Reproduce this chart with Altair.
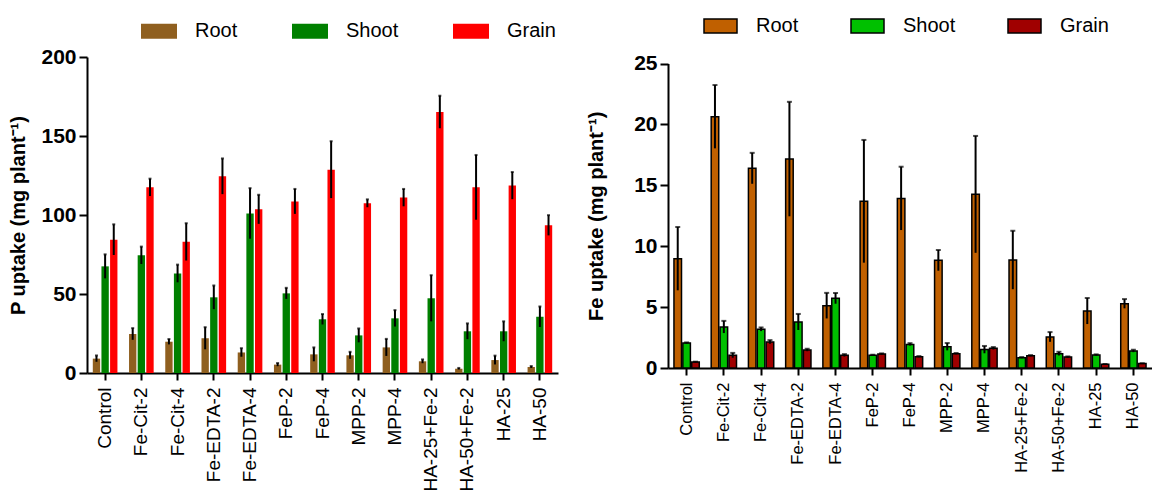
import altair as alt
import pandas as pd

treatments = ["Control", "Fe-Cit-2", "Fe-Cit-4", "Fe-EDTA-2", "Fe-EDTA-4", "FeP-2", "FeP-4",
              "MPP-2", "MPP-4", "HA-25+Fe-2", "HA-50+Fe-2", "HA-25", "HA-50"]
parts = ["Root", "Shoot", "Grain"]

# P uptake (mg plant-1): means and error half-widths
p_root = [9.1, 24.7, 19.8, 22.0, 13.0, 5.3, 11.8, 11.2, 16.2, 7.4, 2.7, 8.2, 3.8]
p_root_err = [2.0, 3.7, 1.7, 7.0, 2.7, 1.0, 4.4, 2.2, 5.4, 1.2, 0.5, 2.8, 0.6]
p_shoot = [67.5, 74.5, 63.0, 47.9, 101.0, 50.4, 34.0, 23.8, 34.6, 47.3, 26.4, 26.4, 35.6]
p_shoot_err = [7.6, 5.5, 5.6, 7.5, 16.0, 3.5, 3.3, 4.4, 5.2, 14.6, 5.0, 6.3, 6.5]
p_grain = [84.4, 117.5, 83.0, 124.5, 103.6, 108.6, 128.7, 107.4, 111.0, 165.2, 117.5, 118.6, 93.5]
p_grain_err = [9.7, 5.5, 11.8, 11.3, 9.2, 7.9, 18.0, 2.5, 5.5, 10.3, 20.5, 8.6, 6.4]

# Fe uptake (mg plant-1): means and error half-widths
fe_root = [8.98, 20.64, 16.4, 17.16, 5.12, 13.69, 13.93, 8.84, 14.26, 8.87, 2.55, 4.68, 5.28]
fe_root_err = [2.6, 2.6, 1.27, 4.7, 1.05, 5.04, 2.6, 0.85, 4.8, 2.4, 0.4, 1.07, 0.38]
fe_shoot = [2.05, 3.37, 3.18, 3.78, 5.72, 1.04, 1.94, 1.75, 1.51, 0.85, 1.18, 1.07, 1.4]
fe_shoot_err = [0.05, 0.5, 0.15, 0.66, 0.44, 0.05, 0.1, 0.3, 0.3, 0.05, 0.15, 0.05, 0.1]
fe_grain = [0.49, 1.04, 2.14, 1.48, 1.04, 1.15, 0.93, 1.18, 1.62, 1.01, 0.9, 0.3, 0.36]
fe_grain_err = [0.03, 0.2, 0.15, 0.1, 0.1, 0.05, 0.05, 0.05, 0.1, 0.05, 0.05, 0.03, 0.03]

p_colors = ["#8f5f1f", "#008000", "#ff0000"]
fe_colors = ["#c06000", "#00c000", "#a00000"]

FONT = "Liberation Sans"


def long_table(series):
    rows = []
    for part, (vals, errs) in zip(parts, series):
        for t, v, e in zip(treatments, vals, errs):
            rows.append({"Treatment": t, "Part": part, "value": v, "lo": v - e, "hi": v + e})
    return pd.DataFrame(rows)


def panel(df, colors, title, ymax, yvalues, width, height, y_top, xlabel_size, title_pad,
          sym_w, sym_h, sym_stroke, legend_x, legend_y, col_pad, bar_stroke, cap):
    half_h = sym_h / sym_w
    sym_path = f"M-1,-{half_h:.4f}L1,-{half_h:.4f}L1,{half_h:.4f}L-1,{half_h:.4f}Z"
    x = alt.X("Treatment:N", sort=treatments, title=None,
              scale=alt.Scale(paddingInner=0.32, paddingOuter=0.16),
              axis=alt.Axis(labelAngle=-90, labelFontSize=xlabel_size, labelFont=FONT,
                            labelColor="black", tickSize=7, tickWidth=2, labelPadding=7,
                            domainWidth=2, domainColor="black", tickColor="black", grid=False))
    xo = alt.XOffset("Part:N", sort=parts, scale=alt.Scale(paddingInner=0.15))
    # the value axis may start a little below the top of the panel
    y_scale = alt.Scale(domain=[0, ymax], nice=False, range=[height, y_top])
    y = alt.Y("value:Q", scale=y_scale, title=title,
              axis=alt.Axis(values=yvalues, labelFontSize=21, labelFontWeight="bold",
                            labelFont=FONT, labelColor="black", tickSize=8, tickWidth=2,
                            labelPadding=3, domainWidth=2, domainColor="black",
                            tickColor="black", titleFontSize=20, titleFontWeight="bold",
                            titleFont=FONT, titleColor="black", titlePadding=title_pad,
                            grid=False))
    legend_kwargs = dict(title=None, orient="none", direction="horizontal",
                         legendX=legend_x, legendY=legend_y,
                         symbolType=sym_path, symbolSize=sym_w * sym_w, symbolOpacity=1,
                         labelFontSize=20, labelFont=FONT, labelColor="black",
                         labelOffset=18, columnPadding=col_pad)
    if sym_stroke:
        legend_kwargs.update(symbolStrokeColor=sym_stroke, symbolStrokeWidth=1.5)
    else:
        legend_kwargs.update(symbolStrokeWidth=0)
    color = alt.Color("Part:N", scale=alt.Scale(domain=parts, range=colors),
                      legend=alt.Legend(**legend_kwargs))
    bar_kwargs = {"opacity": 1}
    if bar_stroke:
        bar_kwargs.update(stroke="black", strokeWidth=1.5)
    bars = alt.Chart(df).mark_bar(**bar_kwargs).encode(x=x, xOffset=xo, y=y, color=color)
    err = alt.Chart(df).mark_rule(color="black", strokeWidth=2).encode(
        x=x, xOffset=xo, y=alt.Y("lo:Q", scale=y_scale), y2="hi:Q")
    caps = alt.Chart(df).mark_tick(color="black", thickness=2, size=cap).encode(
        x=x, xOffset=xo, y=alt.Y("hi:Q", scale=y_scale))
    return alt.layer(bars, err, caps).properties(width=width, height=height)


p_df = long_table([(p_root, p_root_err), (p_shoot, p_shoot_err), (p_grain, p_grain_err)])
fe_df = long_table([(fe_root, fe_root_err), (fe_shoot, fe_shoot_err), (fe_grain, fe_grain_err)])

left = panel(p_df, p_colors, "P uptake (mg plant⁻¹)", 200, [0, 50, 100, 150, 200],
             471, 316, 0, 19, 12, 36, 15, None, 54, -43.7, 54, False, 3)
right = panel(fe_df, fe_colors, "Fe uptake (mg plant⁻¹)", 25, [0, 5, 10, 15, 20, 25],
              484, 311, 6.6, 16.5, 27, 33, 14, "black", 35, -48.7, 49, True, 5)

chart = alt.hconcat(left, right, spacing=28).resolve_scale(
    color="independent", x="independent", y="independent", xOffset="independent"
).resolve_legend(color="independent").properties(
    padding={"left": 8, "top": 8, "right": 0, "bottom": 0}
).configure(font=FONT).configure_view(stroke=None).configure_axis(grid=False)

chart.save("out.html", embed_options={"renderer": "svg", "actions": False})
